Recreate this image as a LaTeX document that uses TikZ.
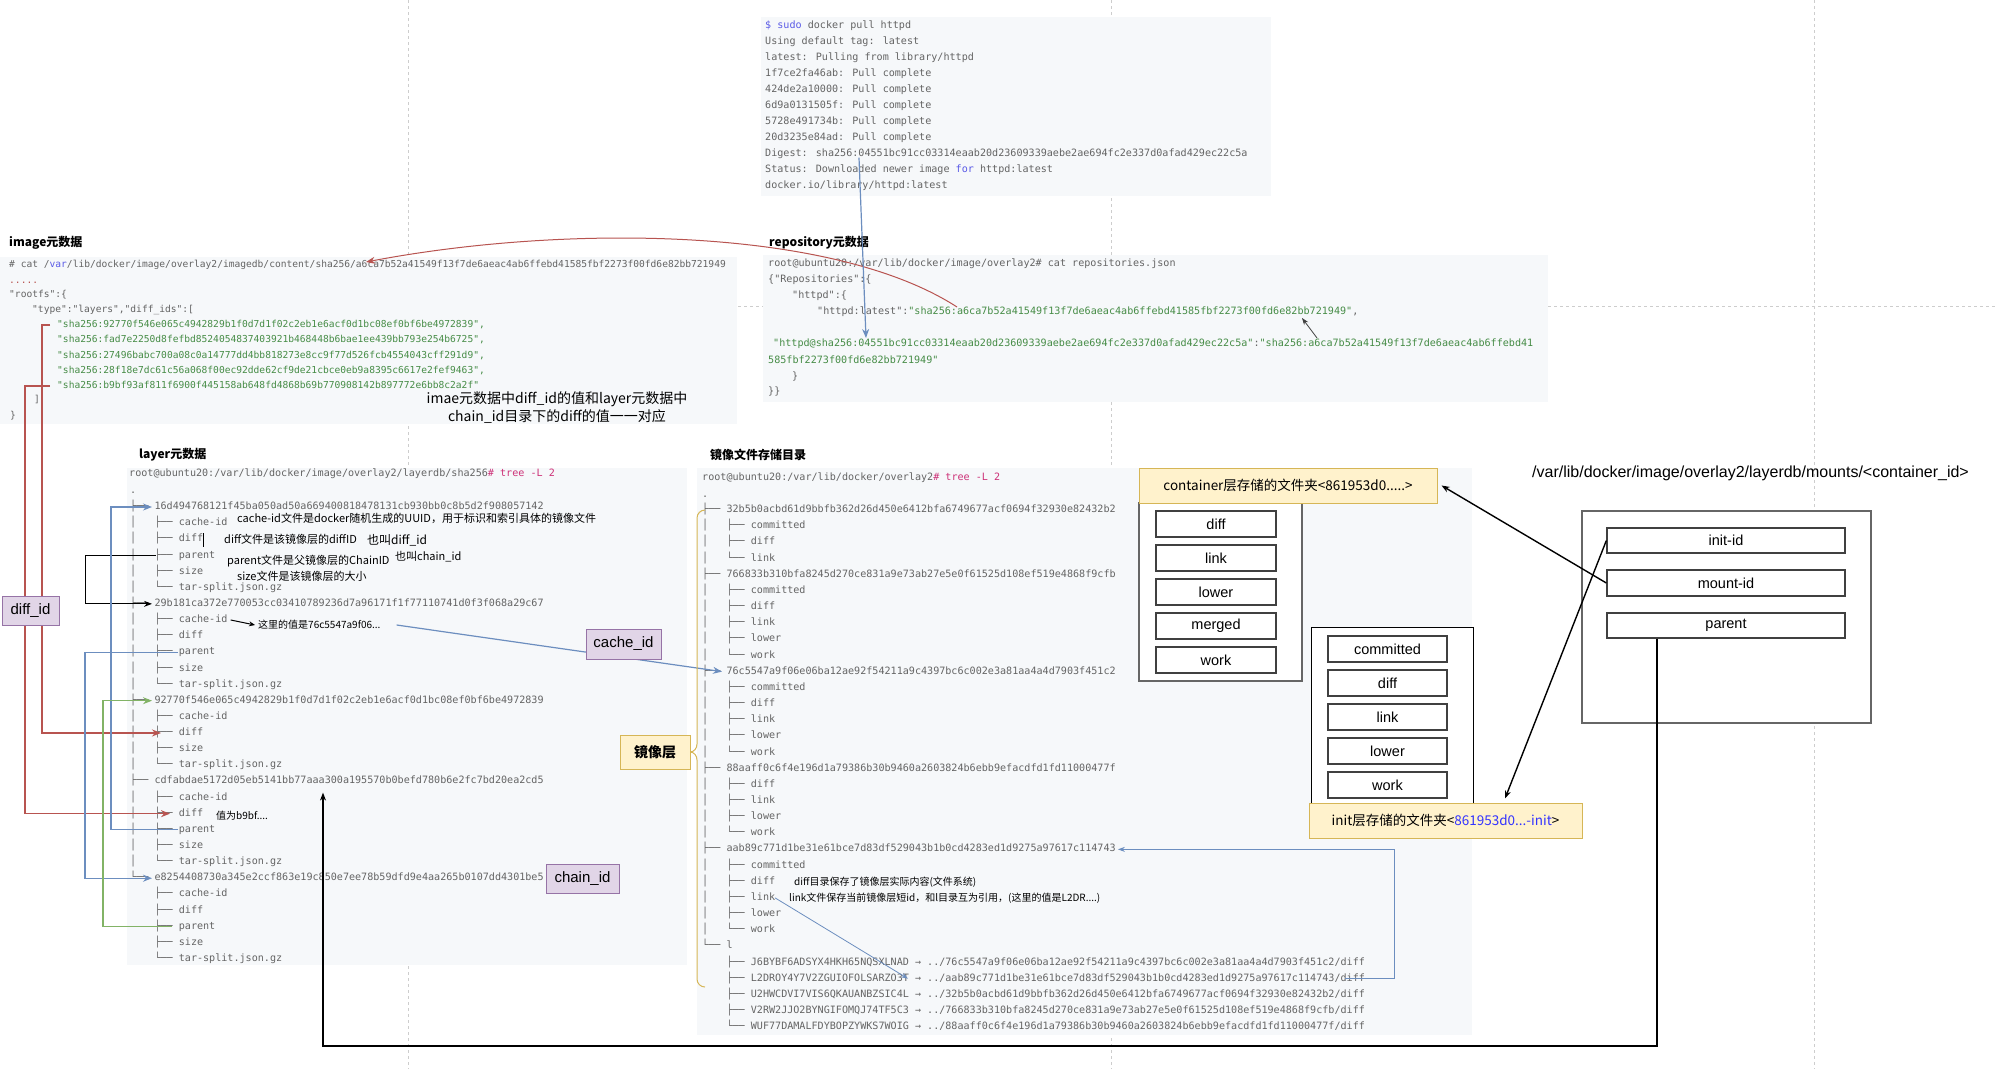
\documentclass[tikz,border=0pt]{standalone}
\usepackage{fontspec}
\setmainfont{Liberation Sans}
\newfontfamily\cjk{Noto Sans CJK SC}
\newfontfamily\dvmono{DejaVu Sans Mono}
\usetikzlibrary{arrows.meta}
\definecolor{codebg}{RGB}{246,248,250}
\definecolor{codegray}{RGB}{100,100,100}
\definecolor{strgreen}{RGB}{70,140,70}
\definecolor{cmdpink}{RGB}{205,50,120}
\definecolor{kwblue}{RGB}{90,90,230}
\definecolor{dioblue}{RGB}{108,142,191}
\definecolor{diored}{RGB}{184,84,80}
\definecolor{diogreen}{RGB}{130,179,102}
\definecolor{tagfill}{RGB}{225,213,231}
\definecolor{tagline}{RGB}{150,115,166}
\definecolor{yfill}{RGB}{255,242,204}
\definecolor{yline}{RGB}{214,182,86}
\definecolor{pagegray}{RGB}{205,205,205}
\definecolor{initblue}{RGB}{51,51,255}

\begin{document}
\begin{tikzpicture}[x=1pt, y=-1pt,
  monotxt/.style={anchor=west, inner sep=0pt, text=codegray,
                  text height=7.6pt, text depth=2.4pt,
                  font=\dvmono\fontsize{10.1}{12}\selectfont},
  imgtxt/.style ={monotxt, font=\dvmono\fontsize{9.6}{12}\selectfont},
  ttl/.style    ={anchor=west, inner sep=0pt,
                  font=\cjk\bfseries\fontsize{12}{14}\selectfont},
  note/.style   ={anchor=west, inner sep=0pt,
                  font=\cjk\fontsize{11}{13}\selectfont},
  snote/.style  ={note, font=\cjk\fontsize{10}{12}\selectfont},
  tag/.style    ={rectangle, draw=tagline, fill=tagfill, line width=1pt,
                  inner sep=0pt, font=\fontsize{15}{18}\selectfont},
  ybox/.style   ={rectangle, draw=yline, fill=yfill, line width=1pt,
                  inner sep=0pt, font=\cjk\fontsize{13.5}{16}\selectfont},
  fld/.style    ={rectangle, draw=black!75, fill=white, line width=1.3pt,
                  minimum width=120pt, minimum height=26pt, inner sep=0pt,
                  font=\fontsize{14.5}{17}\selectfont},
  grp/.style    ={rectangle, draw=black!60, fill=white, line width=1.3pt,
                  inner sep=0pt},
  barr/.style   ={-{Stealth[length=9pt,width=7pt]}, line width=1.2pt, color=dioblue},
  rarr/.style   ={-{Stealth[length=9pt,width=7pt]}, line width=1.2pt, color=diored},
  garr/.style   ={-{Stealth[length=9pt,width=7pt]}, line width=1.2pt, color=diogreen},
  karr/.style   ={-{Stealth[length=8pt,width=6pt]}, line width=1pt, color=black},
  pgbrk/.style  ={dashed, color=pagegray, line width=0.6pt},
]
\useasboundingbox (0,0) rectangle (1998,1069);
\fill[white] (0,0) rectangle (1998,1069);

%% page breaks
\draw[pgbrk] (408,0) -- (408,1069);
\draw[pgbrk] (1111,0) -- (1111,1069);
\draw[pgbrk] (1814,0) -- (1814,1069);
\draw[pgbrk] (0,306) -- (1998,306);

%% code backgrounds
\fill[codebg] (761,17) rectangle (1271,196);
\fill[codebg] (0,257) rectangle (737,424);
\fill[codebg] (763,255) rectangle (1548,402);
\fill[codebg] (127,468) rectangle (687,965);
\fill[codebg] (697,468) rectangle (1472,1035);

%% ===== docker pull =====
\foreach \t [count=\i from 0] in {
  {\textcolor{kwblue}{\$ sudo} docker pull httpd},
  {Using default tag: latest},
  {latest: Pulling from library/httpd},
  {1f7ce2fa46ab: Pull complete},
  {424de2a10000: Pull complete},
  {6d9a0131505f: Pull complete},
  {5728e491734b: Pull complete},
  {20d3235e84ad: Pull complete},
  {Digest: sha256:04551bc91cc03314eaab20d23609339aebe2ae694fc2e337d0afad429ec22c5a},
  {Status: Downloaded newer image \textcolor{kwblue}{for} httpd:latest},
  {docker.io/library/httpd:latest}}
  {\node[monotxt] (pull\i) at (765,{25.7+16*\i}) {\t};}

%% ===== image metadata =====
\node[ttl] (timg) at (9,243) {image元数据};
\node[imgtxt] (img0) at (9,265) {\# cat /\textcolor{kwblue}{var}/lib/docker/image/overlay2/imagedb/content/sha256/a6ca7b52a41549f13f7de6aeac4ab6ffebd41585fbf2273f00fd6e82bb721949};
\node[imgtxt, text=diored] (img1) at (9,281) {.....};
\node[imgtxt] (img2) at (9,295) {"rootfs":\{};
\node[imgtxt] (img3) at (32,310) {"type":"layers","diff\_ids":[};
\node[imgtxt, text=strgreen] (imgs1) at (57,325) {"sha256:92770f546e065c4942829b1f0d7d1f02c2eb1e6acf0d1bc08ef0bf6be4972839",};
\node[imgtxt, text=strgreen] (imgs2) at (57,340) {"sha256:fad7e2250d8fefbd8524054837403921b468448b6bae1ee439bb793e254b6725",};
\node[imgtxt, text=strgreen] (imgs3) at (57,356) {"sha256:27496babc700a08c0a14777dd4bb818273e8cc9f77d526fcb4554043cff291d9",};
\node[imgtxt, text=strgreen] (imgs4) at (57,371) {"sha256:28f18e7dc61c56a068f00ec92dde62cf9de21cbce0eb9a8395c6617e2fef9463",};
\node[imgtxt, text=strgreen] (imgs5) at (57,386) {"sha256:b9bf93af811f6900f445158ab648fd4868b69b770908142b897772e6bb8c2a2f"};
\node[imgtxt] (img9) at (34,400) {]};
\node[imgtxt] (img10) at (10,416) {\}};
\node[align=center, inner sep=0pt, font=\cjk\fontsize{14}{18}\selectfont] (match) at (557,408)
  {imae元数据中diff\_id的值和layer元数据中\\chain\_id目录下的diff的值一一对应};

%% ===== repository metadata =====
\node[ttl] (trepo) at (769,243) {repository元数据};
\node[monotxt] (rprompt) at (768,264) {root@ubuntu20:/var/lib/docker/image/overlay2\# cat repositories.json};
\node[monotxt] (rrepo) at (768,280) {\{"Repositories":\{};
\node[monotxt] (rhttpd) at (792,296) {"httpd":\{};
\node[monotxt] (rlatest) at (817,312) {"httpd:latest":\textcolor{strgreen}{"sha256:a6ca7b52a41549f13f7de6aeac4ab6ffebd41585fbf2273f00fd6e82bb721949"},};
\node[monotxt, text=strgreen] (rsha) at (773,344) {"httpd@sha256:04551bc91cc03314eaab20d23609339aebe2ae694fc2e337d0afad429ec22c5a"\textcolor{codegray}{:}"sha256:a6ca7b52a41549f13f7de6aeac4ab6ffebd41};
\node[monotxt, text=strgreen] (rsha2) at (768,361) {585fbf2273f00fd6e82bb721949"};
\node[monotxt] (rclose) at (792,377) {\}};
\node[monotxt] (rclose2) at (768,392) {\}\}};

%% ===== layer metadata =====
\node[ttl] (tlayer) at (139,455) {layer元数据};
\node[monotxt] (t1prompt) at (129,474) {root@ubuntu20:/var/lib/docker/image/overlay2/layerdb/sha256\textcolor{cmdpink}{\# tree -L 2}};
\node[monotxt] (t1dot) at (130,491) {.};
\foreach \t [count=\i from 0] in {
  ├──~16d494768121f45ba050ad50a669400818478131cb930bb0c8b5d2f908057142,
  │~~~├──~cache-id, │~~~├──~diff, │~~~├──~parent, │~~~├──~size, │~~~└──~tar-split.json.gz,
  ├──~29b181ca372e770053cc03410789236d7a96171f1f77110741d0f3f068a29c67,
  │~~~├──~cache-id, │~~~├──~diff, │~~~├──~parent, │~~~├──~size, │~~~└──~tar-split.json.gz,
  ├──~92770f546e065c4942829b1f0d7d1f02c2eb1e6acf0d1bc08ef0bf6be4972839,
  │~~~├──~cache-id, │~~~├──~diff, │~~~├──~size, │~~~└──~tar-split.json.gz,
  ├──~cdfabdae5172d05eb5141bb77aaa300a195570b0befd780b6e2fc7bd20ea2cd5,
  │~~~├──~cache-id, │~~~├──~diff, │~~~├──~parent, │~~~├──~size, │~~~└──~tar-split.json.gz,
  └──~e8254408730a345e2ccf863e19c850e7ee78b59dfd9e4aa265b0107dd4301be5,
  ~~~~├──~cache-id, ~~~~├──~diff, ~~~~├──~parent, ~~~~├──~size, ~~~~└──~tar-split.json.gz}
  {\node[monotxt] (t1r\i) at (130,{507+16.14*\i}) {\t};}

% notes on the first layer
\node[note] (ann1) at (237,518) {cache-id文件是docker随机生成的UUID，用于标识和索引具体的镜像文件};
\node[note] (ann2) at (224,539) {diff文件是该镜像层的diffID};
\node[note, font=\cjk\fontsize{12}{14}\selectfont] (ann2b) at (367,540) {也叫diff\_id};
\node[note] (ann3) at (227,561) {parent文件是父镜像层的ChainID};
\node[note] (ann3b) at (395,557) {也叫chain\_id};
\node[note] (ann4) at (237,576) {size文件是该镜像层的大小};
\node[snote] (ann5) at (258,625) {这里的值是76c5547a9f06...};
\node[snote] (ann6) at (216,816) {值为b9bf....};
\draw[black, line width=0.8pt] (203,533) -- (203,547);

%% ===== overlay2 dir =====
\node[ttl] (tdir) at (710,455) {镜像文件存储目录};
\node[monotxt] (t2prompt) at (702,478) {root@ubuntu20:/var/lib/docker/overlay2\textcolor{cmdpink}{\# tree -L 2}};
\node[monotxt] (t2dot) at (702,495) {.};
\foreach \t [count=\i from 0] in {
  ├──~32b5b0acbd61d9bbfb362d26d450e6412bfa6749677acf0694f32930e82432b2,
  │~~~├──~committed, │~~~├──~diff, │~~~└──~link,
  ├──~766833b310bfa8245d270ce831a9e73ab27e5e0f61525d108ef519e4868f9cfb,
  │~~~├──~committed, │~~~├──~diff, │~~~├──~link, │~~~├──~lower, │~~~└──~work,
  ├──~76c5547a9f06e06ba12ae92f54211a9c4397bc6c002e3a81aa4a4d7903f451c2,
  │~~~├──~committed, │~~~├──~diff, │~~~├──~link, │~~~├──~lower, │~~~└──~work,
  ├──~88aaff0c6f4e196d1a79386b30b9460a2603824b6ebb9efacdfd1fd11000477f,
  │~~~├──~diff, │~~~├──~link, │~~~├──~lower, │~~~└──~work,
  ├──~aab89c771d1be31e61bce7d83df529043b1b0cd4283ed1d9275a97617c114743,
  │~~~├──~committed, │~~~├──~diff, │~~~├──~link, │~~~├──~lower, │~~~└──~work,
  └──~l,
  ~~~~├──~J6BYBF6ADSYX4HKH65NQSXLNAD~→~../76c5547a9f06e06ba12ae92f54211a9c4397bc6c002e3a81aa4a4d7903f451c2/diff,
  ~~~~├──~L2DROY4Y7V2ZGUIOFOLSARZO3T~→~../aab89c771d1be31e61bce7d83df529043b1b0cd4283ed1d9275a97617c114743/diff,
  ~~~~├──~U2HWCDVI7VIS6QKAUANBZSIC4L~→~../32b5b0acbd61d9bbfb362d26d450e6412bfa6749677acf0694f32930e82432b2/diff,
  ~~~~├──~V2RW2JJO2BYNGIFOMQJ74TF5C3~→~../766833b310bfa8245d270ce831a9e73ab27e5e0f61525d108ef519e4868f9cfb/diff,
  ~~~~└──~WUF77DAMALFDYBOPZYWKS7WOIG~→~../88aaff0c6f4e196d1a79386b30b9460a2603824b6ebb9efacdfd1fd11000477f/diff}
  {\node[monotxt] (t2r\i) at (702,{510+16.16*\i}) {\t};}

\node[snote] (ann7) at (794,882) {diff目录保存了镜像层实际内容(文件系统)};
\node[snote] (ann8) at (789,898) {link文件保存当前镜像层短id，和l目录互为引用，(这里的值是L2DR....)};

%% ===== container side =====
\node[anchor=west, inner sep=0pt, font=\fontsize{16}{19}\selectfont] (mpath) at (1532,473)
  {/var/lib/docker/image/overlay2/layerdb/mounts/<container\_id>};
\node[grp, minimum width=289pt, minimum height=212pt] (mbox) at (1726.5,617) {};
\node[fld, minimum width=238pt, minimum height=25pt] (minit) at (1726,540.5) {init-id};
\node[fld, minimum width=238pt, minimum height=26pt] (mmount) at (1726,583) {mount-id};
\node[fld, minimum width=238pt, minimum height=25pt] (mparent) at (1726,625.5) {parent};

\node[grp, minimum width=163pt, minimum height=178pt] (cbox) at (1220.5,592) {};
\node[ybox, minimum width=298pt, minimum height=35pt] (clabel) at (1288,485.5)
  {container层存储的文件夹<861953d0.....>};
\foreach \n [count=\i from 0] in {diff,link,lower,merged,work}
  {\node[fld] (cf\i) at (1216,{524+34*\i}) {\n};}

\node[grp, draw=black, line width=1pt, minimum width=162pt, minimum height=176pt] (ibox) at (1392,715) {};
\foreach \n [count=\i from 0] in {committed,diff,link,lower,work}
  {\node[fld, minimum width=119pt] (if\i) at (1387.5,{649+34*\i}) {\n};}
\node[ybox, minimum width=273pt, minimum height=35pt] (ilabel) at (1445.5,820.5)
  {init层存储的文件夹<\textcolor{initblue}{861953d0...-init}>};

%% ===== connectors =====
% image -> repository
\draw[rarr, line width=1pt] ([xshift=140pt,yshift=5pt]rlatest.west)
  .. controls (830,225) and (560,225) .. ([xshift=357pt,yshift=3pt]img0.west);
\draw[barr] ([xshift=94pt,yshift=-4pt]pull8.west) -- ([xshift=93pt,yshift=6pt]rsha.west);
\draw[-{Stealth[length=7pt,width=5pt]}, line width=0.8pt, black!75]
  ([xshift=544pt,yshift=6pt]rsha.west) -- ([xshift=485pt,yshift=-6pt]rlatest.west);

% diff_ids -> diff
\draw[rarr] ([xshift=-7pt]imgs1.west) -- ++(-8,0) |- ([xshift=31pt]t1r14.west);
\draw[rarr] ([xshift=-7pt]imgs5.west) -- ++(-25,0) |- ([xshift=40pt]t1r19.west);

% parent -> chain_id
\draw[karr] ([xshift=26pt]t1r3.west) -- ++(-71,0) |- ([xshift=22pt]t1r6.west);
\draw[barr] ([xshift=48pt]t1r9.west) -- ++(-93,0) |- ([xshift=22pt]t1r23.west);
\draw[barr] ([xshift=48pt]t1r20.west) -- ++(-67,0) |- ([xshift=22pt]t1r0.west);
\draw[garr] ([xshift=42pt]t1r26.west) -- ++(-69,0) |- ([xshift=22pt]t1r12.west);

% cache-id -> overlay2 dir
\draw[karr, -{Stealth[length=6pt,width=5pt]}] ([xshift=3pt]t1r7.east) -- ([xshift=-3pt]ann5.west);
\draw[barr] ([xshift=16pt]ann5.east) -- ([xshift=20pt]t2r10.west);

% link <-> l
\draw[barr, line width=0.8pt, -{Stealth[length=7pt,width=5pt]}] ([xshift=73pt]t2r24.west) -- ([xshift=206pt]t2r29.west);
\draw[barr, line width=0.8pt, -{Stealth[length=7pt,width=5pt]}] ([xshift=-20pt]t2r29.east) -- ([xshift=29pt]t2r29.east) |- ([xshift=2pt]t2r21.east);

% brace of the image layers
\draw[yline, line width=1pt] (705,510) to[out=180,in=90] (697,518) -- (697,744)
  to[out=270,in=0] (690,752) to[out=0,in=90] (697,760) -- (697,979)
  to[out=270,in=180] (705,987);

% mounts -> layers
\draw[karr, line width=1.4pt] (mmount.west) -- ([xshift=4pt]clabel.east);
\draw[karr, line width=1.4pt] (minit.west) -- ([xshift=59.5pt,yshift=4pt]ilabel.north);
\draw[karr, line width=1.8pt] ([xshift=-69pt]mparent.south) -- ++(0,407) -| ([xshift=193pt,yshift=-6pt]t1r17.south west);

%% ===== tags =====
\node[tag, minimum width=57pt, minimum height=29pt] (diffid) at (30.5,610.5) {diff\_id};
\node[tag, minimum width=75pt, minimum height=30pt] (cacheid) at (623.5,644) {cache\_id};
\node[tag, minimum width=73pt, minimum height=29pt] (chainid) at (582.5,878.5) {chain\_id};
\node[ybox, minimum width=70pt, minimum height=34pt,
      font=\cjk\bfseries\fontsize{14}{16}\selectfont] (mirror) at (655,752) {镜像层};

\end{tikzpicture}
\end{document}
